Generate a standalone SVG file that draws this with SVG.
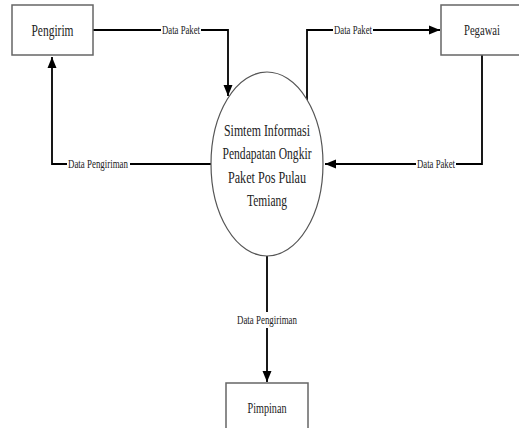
<svg xmlns="http://www.w3.org/2000/svg" width="519" height="428" viewBox="0 0 519 428">
<style>
.box{fill:#fff;stroke:#666;stroke-width:1.5}
.proc{fill:#fff;stroke:#555;stroke-width:1.2}
.ln{fill:none;stroke:#000;stroke-width:1.8}
.t{font-family:"Liberation Serif","Times New Roman",serif;fill:#222;text-anchor:middle}
.lbl{font-family:"Liberation Serif","Times New Roman",serif;fill:#222;text-anchor:middle;font-size:12px}
.bg{fill:#fff}
</style>
<defs>
<marker id="arr" markerUnits="userSpaceOnUse" markerWidth="12" markerHeight="10" refX="11" refY="5" orient="auto">
<path d="M0,0.5 L11,5 L0,9.5 Z" fill="#000"/>
</marker>
</defs>
<rect width="519" height="428" fill="#fff"/>
<g id="connectors">
<path class="ln" d="M93,30 H228 V96" marker-end="url(#arr)"/>
<path class="ln" d="M307,100 V30 H440" marker-end="url(#arr)"/>
<path class="ln" d="M482,55 V164 H325" marker-end="url(#arr)"/>
<path class="ln" d="M211,164 H52 V57" marker-end="url(#arr)"/>
<path class="ln" d="M267,256 V382" marker-end="url(#arr)"/>
<rect class="bg" x="161" y="23" width="40" height="14"/>
<text class="lbl" x="181" y="34" textLength="38" lengthAdjust="spacingAndGlyphs">Data Paket</text>
<rect class="bg" x="333" y="23" width="40" height="14"/>
<text class="lbl" x="353" y="34" textLength="38" lengthAdjust="spacingAndGlyphs">Data Paket</text>
<rect class="bg" x="416" y="157" width="40" height="14"/>
<text class="lbl" x="436" y="168" textLength="38" lengthAdjust="spacingAndGlyphs">Data Paket</text>
<rect class="bg" x="67" y="157" width="63" height="14"/>
<text class="lbl" x="98" y="168" textLength="60" lengthAdjust="spacingAndGlyphs">Data Pengiriman</text>
<rect class="bg" x="236" y="312" width="63" height="16"/>
<text class="lbl" x="267" y="324" textLength="60" lengthAdjust="spacingAndGlyphs">Data Pengiriman</text>
</g>
<g id="pengirim">
<rect class="box" x="12" y="5" width="81" height="50"/>
<text class="t" x="52.5" y="36" font-size="17" textLength="42" lengthAdjust="spacingAndGlyphs">Pengirim</text>
</g>
<g id="pegawai">
<rect class="box" x="441" y="5" width="81" height="50"/>
<text class="t" x="482" y="35" font-size="14" textLength="36" lengthAdjust="spacingAndGlyphs">Pegawai</text>
</g>
<g id="sistem">
<ellipse class="proc" cx="267" cy="164" rx="56" ry="92"/>
<text class="t" x="267" y="136" font-size="16" textLength="86" lengthAdjust="spacingAndGlyphs">Simtem Informasi</text>
<text class="t" x="267" y="159" font-size="16" textLength="89" lengthAdjust="spacingAndGlyphs">Pendapatan Ongkir</text>
<text class="t" x="267" y="183" font-size="16" textLength="78" lengthAdjust="spacingAndGlyphs">Paket Pos Pulau</text>
<text class="t" x="267" y="206" font-size="16" textLength="40" lengthAdjust="spacingAndGlyphs">Temiang</text>
</g>
<g id="pimpinan">
<rect class="box" x="226" y="383" width="82" height="60"/>
<text class="t" x="267" y="413" font-size="14" textLength="39" lengthAdjust="spacingAndGlyphs">Pimpinan</text>
</g>
</svg>
